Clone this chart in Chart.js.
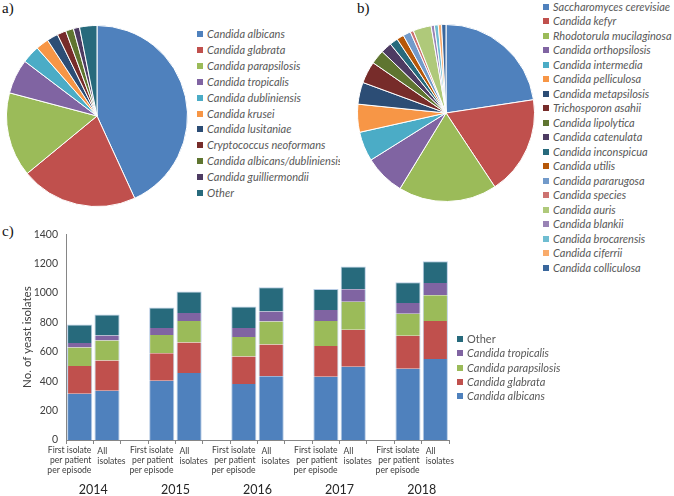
<!DOCTYPE html>
<html>
<head>
<meta charset="utf-8">
<script src="https://cdn.jsdelivr.net/npm/chart.js@4.4.1/dist/chart.umd.min.js"></script>
<style>
  body { margin: 0; background: #fff; width: 674px; height: 496px; position: relative; overflow: hidden; font-family: Lato, 'Open Sans', sans-serif; }
  .box { position: absolute; }
  .panel { position: absolute; font-family: 'Liberation Serif', 'DejaVu Serif', serif; font-size: 15px; color: #111; line-height: 1; }
  .leg { position: absolute; font-size: 11px; color: #595959; white-space: nowrap; overflow: hidden; }
  .leg div { position: absolute; left: 0; height: 14px; line-height: 14px; }
  .leg i { display: inline-block; width: 6px; height: 6px; margin-right: 4px; vertical-align: 1px; }
  .leg .it { font-style: italic; }
</style>
</head>
<body>
<div class="panel" style="left:2px;top:1px">a)</div>
<div class="panel" style="left:357px;top:1px">b)</div>
<div class="panel" style="left:2px;top:224px">c)</div>

<div class="box" style="left:6px;top:25px;width:182px;height:182px"><canvas id="pieA"></canvas></div>
<div class="leg" id="legA" style="left:197px;top:0;width:143px;height:220px"></div>

<div class="box" style="left:357px;top:24px;width:178px;height:178px"><canvas id="pieB"></canvas></div>
<div class="leg" id="legB" style="left:543px;top:0;width:131px;height:290px"></div>

<div class="box" style="left:0;top:220px;width:460px;height:276px"><canvas id="bars"></canvas></div>
<div class="leg" id="legC" style="left:457px;top:320px;width:217px;height:100px"></div>

<script>
// a) species distribution (% of isolates)
const pieALabels = ['Candida albicans', 'Candida glabrata', 'Candida parapsilosis', 'Candida tropicalis',
  'Candida dubliniensis', 'Candida krusei', 'Candida lusitaniae', 'Cryptococcus neoformans',
  'Candida albicans/dubliniensis', 'Candida guilliermondii', 'Other'];
const pieAValues = [43.2, 20.9, 15.1, 6.2, 3.2, 2.3, 2.0, 1.6, 1.4, 1.1, 3.1];
const pieAColors = ['#4f81bd', '#c0504d', '#9bbb59', '#8064a2', '#4bacc6', '#f79646',
  '#2c4d75', '#772c2a', '#5f7530', '#4d3b62', '#276a7c'];

// b) break-down of "Other"
const pieBLabels = ['Saccharomyces cerevisiae', 'Candida kefyr', 'Rhodotorula mucilaginosa', 'Candida orthopsilosis',
  'Candida intermedia', 'Candida pelliculosa', 'Candida metapsilosis', 'Trichosporon asahii',
  'Candida lipolytica', 'Candida catenulata', 'Candida inconspicua', 'Candida utilis',
  'Candida pararugosa', 'Candida species', 'Candida auris', 'Candida blankii',
  'Candida brocarensis', 'Candida ciferrii', 'Candida colliculosa'];
const pieBValues = [22.6, 18.1, 18.0, 7.4, 5.4, 5.1, 4.0, 4.0, 2.6, 2.0, 1.5, 1.3, 1.4, 0.6, 3.3, 0.6, 0.7, 0.6, 0.8];
const pieBColors = ['#4f81bd', '#c0504d', '#9bbb59', '#8064a2', '#4bacc6', '#f79646',
  '#2c4d75', '#772c2a', '#5f7530', '#4d3b62', '#276a7c', '#b65708',
  '#729aca', '#cd7371', '#afc97a', '#9983b5', '#6fbdd1', '#f9ab6b', '#3a679c'];

// c) yeast isolates per year
const years = ['2014', '2015', '2016', '2017', '2018'];
const barCats = [
  ['First isolate', 'per patient', 'per episode'], ['All', 'isolates'], '',
  ['First isolate', 'per patient', 'per episode'], ['All', 'isolates'], '',
  ['First isolate', 'per patient', 'per episode'], ['All', 'isolates'], '',
  ['First isolate', 'per patient', 'per episode'], ['All', 'isolates'], '',
  ['First isolate', 'per patient', 'per episode'], ['All', 'isolates']
];
const albicans     = [314, 336, null, 403, 456, null, 381, 434, null, 430, 499, null, 485, 552];
const glabrata     = [189, 205, null, 187, 207, null, 187, 216, null, 209, 251, null, 225, 258];
const parapsilosis = [127, 136, null, 124, 147, null, 133, 156, null, 171, 191, null, 149, 176];
const tropicalis   = [ 31,  35, null,  49,  54, null,  62,  69, null,  74,  85, null,  74,  82];
const other        = [125, 143, null, 138, 146, null, 145, 164, null, 144, 154, null, 140, 149];
const barSeries = ['Candida albicans', 'Candida glabrata', 'Candida parapsilosis', 'Candida tropicalis', 'Other'];
const barColors = ['#4f81bd', '#c0504d', '#9bbb59', '#8064a2', '#276a7c'];

Chart.defaults.font.family = "Lato, 'Open Sans', sans-serif";
Chart.defaults.color = '#404040';

function legende(id, labels, colors, top0, step, droitOther) {
  const cont = document.getElementById(id);
  cont.innerHTML = labels.map((l, i) =>
    `<div style="top:${(top0 + i * step - 7).toFixed(1)}px"><i style="background:${colors[i]}"></i><span class="${droitOther && l === 'Other' ? '' : 'it'}">${l}</span></div>`
  ).join('');
}
legende('legA', pieALabels, pieAColors, 34, 15.9, false);
legende('legB', pieBLabels, pieBColors, 6.7, 14.5, false);
legende('legC', barSeries.slice().reverse(), barColors.slice().reverse(), 19, 14.3, true);

function pie(id, values, colors) {
  new Chart(document.getElementById(id), {
    type: 'pie',
    data: { datasets: [{ data: values, backgroundColor: colors, borderColor: '#fff', borderWidth: 1, hoverOffset: 0 }] },
    options: {
      animation: false, responsive: true, maintainAspectRatio: false, events: [],
      plugins: { legend: { display: false }, tooltip: { enabled: false } }
    }
  });
}
pie('pieA', pieAValues, pieAColors);
pie('pieB', pieBValues, pieBColors);

const vals = [albicans, glabrata, parapsilosis, tropicalis, other];

new Chart(document.getElementById('bars'), {
  type: 'bar',
  data: {
    labels: barCats,
    datasets: vals.map((d, i) => ({
      label: barSeries[i],
      data: d,
      backgroundColor: barColors[i],
      borderColor: '#b9cde5',
      borderWidth: { left: 1, right: 1, top: i === 4 ? 1 : 0, bottom: 0 },
      borderSkipped: false,
      barPercentage: 0.92,
      categoryPercentage: 1
    }))
  },
  options: {
    animation: false, responsive: true, maintainAspectRatio: false, events: [],
    layout: { padding: { left: 20, right: 11, top: 11, bottom: 0 } },
    plugins: { legend: { display: false }, tooltip: { enabled: false } },
    scales: {
      x: {
        stacked: true,
        grid: { display: true, drawOnChartArea: false, color: '#868686', tickLength: 4 },
        border: { color: '#868686' },
        ticks: { display: false },
        afterFit: s => { s.height = 56; }
      },
      y: {
        stacked: true, min: 0, max: 1400,
        grid: { display: false, drawTicks: false },
        border: { color: '#868686' },
        ticks: { stepSize: 200, color: '#404040', font: { size: 10.5 }, padding: 8, callback: v => String(v) },
        title: { display: true, text: 'No. of yeast isolates', color: '#404040', font: { size: 11.5 }, padding: { top: 0, bottom: 4 } },
        afterFit: s => { s.width = 46; }
      }
    }
  },
  plugins: [{
    // category labels: "First isolate..." hugs the right of its slot, "All isolates" the left
    id: 'etiquetes',
    afterDraw(chart) {
      const { ctx, scales: { x } } = chart;
      const half = x.width / barCats.length / 2;
      ctx.save();
      ctx.fillStyle = '#404040';
      ctx.font = "8.6px Lato, 'Open Sans', sans-serif";
      ctx.textBaseline = 'middle';
      barCats.forEach((lab, i) => {
        if (!Array.isArray(lab)) return;
        const c = x.getPixelForValue(i);
        const premier = lab.length === 3;
        ctx.textAlign = premier ? 'right' : 'left';
        const xp = premier ? c + half - 2 : c - half + 4;
        const y0 = x.top + (premier ? 10 : 11.5);
        lab.forEach((l, j) => ctx.fillText(l, xp, y0 + j * 10));
      });
      ctx.fillStyle = '#262626';
      ctx.font = "12.5px Lato, 'Open Sans', sans-serif";
      ctx.textAlign = 'center';
      years.forEach((yr, k) => {
        const mid = (x.getPixelForValue(3 * k) + x.getPixelForValue(3 * k + 1)) / 2;
        ctx.fillText(yr, mid, x.bottom - 6);
      });
      ctx.restore();
    }
  }]
});
</script>
</body>
</html>
